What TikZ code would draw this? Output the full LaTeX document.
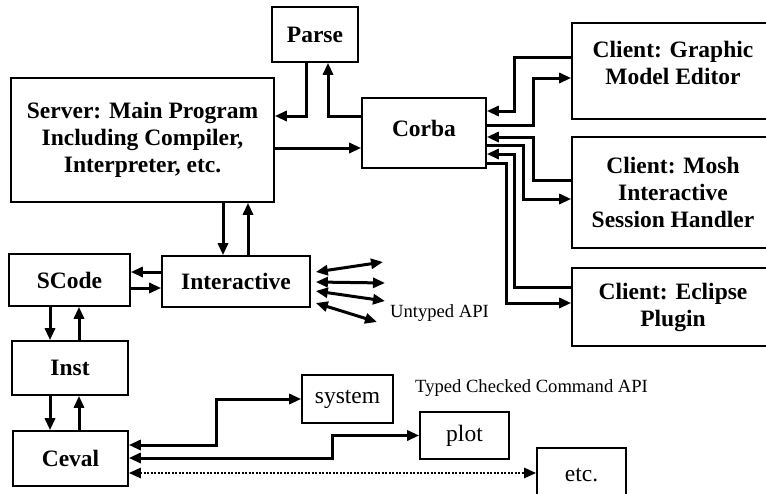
\documentclass[tikz,border=0pt]{standalone}
\usepackage{fontspec}
\setmainfont{Liberation Serif}
\usetikzlibrary{arrows.meta}
\tikzset{
  box/.style={draw, line width=1.6pt, inner sep=0pt, align=center,
    font=\bfseries\fontsize{23.5}{27}\selectfont},
  pbox/.style={draw, line width=1.6pt, inner sep=0pt, align=center,
    font=\fontsize{23.5}{27}\selectfont},
  lbl/.style={anchor=west, inner sep=0pt, font=\fontsize{18.6}{21}\selectfont},
  arr/.style={line width=3pt, -{Triangle[length=12pt,width=10pt]}},
  darr/.style={line width=3pt, {Triangle[length=12pt,width=10pt]}-{Triangle[length=12pt,width=10pt]}},
  dotarr/.style={line width=2.5pt, dash pattern=on 2pt off 1.5pt,
    {Triangle[length=12pt,width=10pt]}-{Triangle[length=12pt,width=10pt]}}
}
\begin{document}
\begin{tikzpicture}[x=1pt,y=-1pt]
\useasboundingbox (0,0) rectangle (766,493);
% boxes
\node[box, minimum width=86pt, minimum height=55pt] (parse) at (315,34.5) {Parse};
\node[box, minimum width=263pt, minimum height=124pt] (server) at (142.5,140) {Server: Main Program\\Including Compiler,\\Interpreter, etc.};
\node[box, minimum width=124pt, minimum height=70pt, text depth=10pt] (corba) at (424,133) {Corba};
\node[box, minimum width=202pt, minimum height=96pt, text depth=16pt] (graphic) at (673,71) {Client: Graphic\\Model Editor};
\node[box, minimum width=202pt, minimum height=111pt] (mosh) at (673,192.5) {Client: Mosh\\Interactive\\Session Handler};
\node[box, minimum width=202pt, minimum height=78pt] (eclipse) at (673,307) {Client: Eclipse\\Plugin};
\node[box, minimum width=121pt, minimum height=52pt] (scode) at (69.5,280) {SCode};
\node[box, minimum width=148pt, minimum height=51pt] (interactive) at (236,281.5) {Interactive};
\node[box, minimum width=116pt, minimum height=54pt] (inst) at (70,368) {Inst};
\node[box, minimum width=115pt, minimum height=55pt] (ceval) at (70.5,458.5) {Ceval};
\node[pbox, minimum width=91pt, minimum height=48pt] (system) at (347.5,399) {system};
\node[pbox, minimum width=89pt, minimum height=47pt] (plot) at (464.5,435.5) {plot};
\node[pbox, minimum width=89pt, minimum height=54pt] (etc) at (581.5,475) {etc.};
% labels
\node[lbl] (untyped) at (390,313) {Untyped API};
\node[lbl] (typed) at (415,388) {Typed Checked Command API};
% server / parse / corba
\draw[arr] (306,0 |- parse.south) |- (server.east |- 0,116);
\draw[arr] (corba.west |- 0,116) -| (328,0 |- parse.south);
\draw[arr] (server.east |- 0,148) -- (corba.west |- 0,148);
% server / interactive
\draw[arr] (223,0 |- server.south) -- (223,0 |- interactive.north);
\draw[arr] (248,0 |- interactive.north) -- (248,0 |- server.south);
% interactive / scode
\draw[arr] (interactive.west |- 0,272) -- (scode.east |- 0,272);
\draw[arr] (scode.east |- 0,288) -- (interactive.west |- 0,288);
% scode / inst / ceval
\draw[arr] (50,0 |- scode.south) -- (50,0 |- inst.north);
\draw[arr] (79,0 |- inst.north) -- (79,0 |- scode.south);
\draw[arr] (50,0 |- inst.south) -- (50,0 |- ceval.north);
\draw[arr] (79,0 |- ceval.north) -- (79,0 |- inst.south);
% untyped api arrows
\coordinate (ie) at ([xshift=5pt]interactive.east);
\coordinate (u1) at (383,262);
\coordinate (u2) at (385,283);
\coordinate (u3) at (385,301);
\coordinate (u4) at (377,322);
\draw[darr] (ie |- 0,272) -- (u1);
\draw[darr] (ie |- 0,282) -- (u2);
\draw[darr] (ie |- 0,291) -- (u3);
\draw[darr] (ie |- 0,303) -- (u4);
% ceval / typed api
\draw[darr] (system.west) -| (216,445) -- (ceval.east |- 0,445);
\draw[darr] (plot.west) -| (332,458) -- (ceval.east |- 0,458);
\draw[dotarr] (ceval.east |- 0,473) -- (etc.west |- 0,473);
% corba / clients
\draw[arr] (graphic.west |- 0,57) -| (514,111) -- (corba.east |- 0,111);
\draw[arr] (corba.east |- 0,125) -| (533,78) -- (graphic.west |- 0,78);
\draw[arr] (mosh.west |- 0,180) -| (533,137) -- (corba.east |- 0,137);
\draw[arr] (corba.east |- 0,145) -| (523,199) -- (mosh.west |- 0,199);
\draw[arr] (eclipse.west |- 0,287) -| (514,154) -- (corba.east |- 0,154);
\draw[arr] (corba.east |- 0,163) -| (506,303) -- (eclipse.west |- 0,303);
\end{tikzpicture}
\end{document}
